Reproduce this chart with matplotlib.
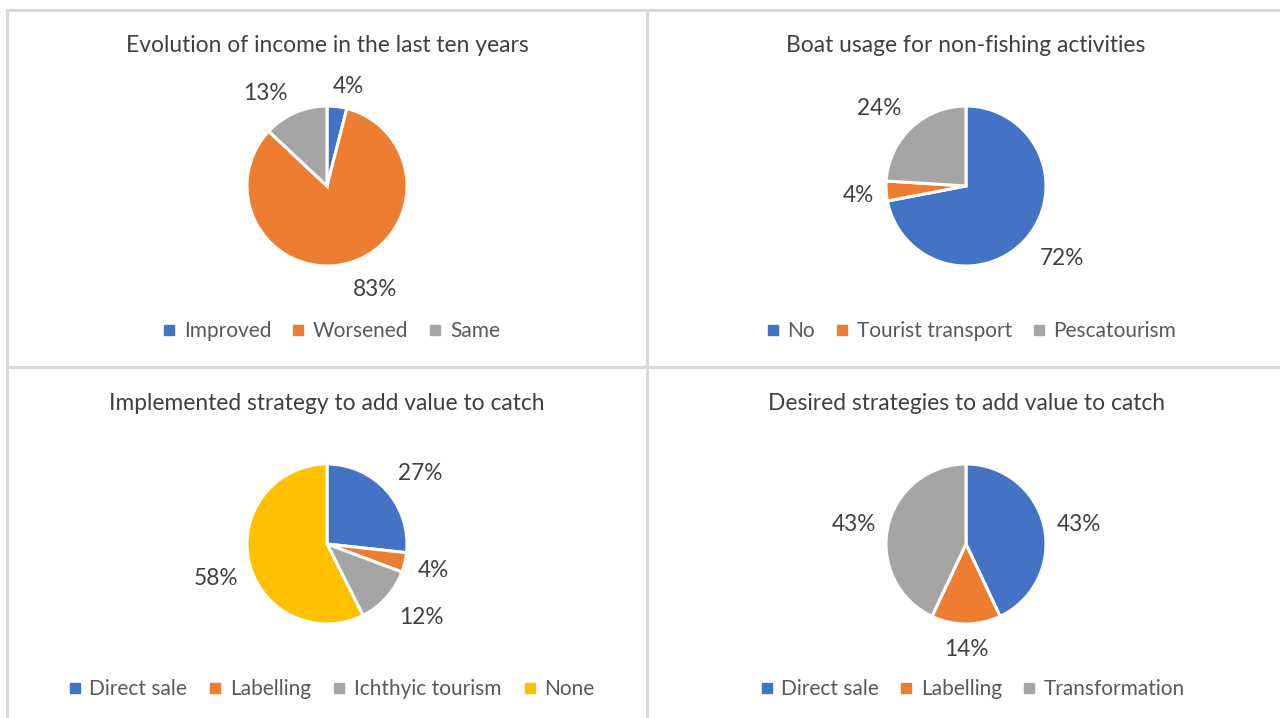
import matplotlib
matplotlib.use("Agg")
import matplotlib.pyplot as plt
from matplotlib.lines import Line2D
import numpy as np

plt.rcParams['font.family'] = ['Lato', 'DejaVu Sans']

BLUE = "#4472C4"
ORANGE = "#ED7D31"
GRAY = "#A5A5A5"
YELLOW = "#FFC000"

# Panel data
income_title = "Evolution of income in the last ten years"
income_labels = ["Improved", "Worsened", "Same"]
income_values = [4, 83, 13]

boat_title = "Boat usage for non-fishing activities"
boat_labels = ["No", "Tourist transport", "Pescatourism"]
boat_values = [72, 4, 24]

impl_title = "Implemented strategy to add value to catch"
impl_labels = ["Direct sale", "Labelling", "Ichthyic tourism", "None"]
impl_values = [27, 4, 12, 58]

desired_title = "Desired strategies to add value to catch"
desired_labels = ["Direct sale", "Labelling", "Transformation"]
desired_values = [43, 14, 43]

W, H = 1280, 718
fig = plt.figure(figsize=(W / 100, H / 100), dpi=100)
fig.patch.set_facecolor("white")


def fx(x):
    return x / W


def fy(y):
    return 1 - y / H


# Panel grid lines
grid_kw = dict(color="#D9D9D9", linewidth=2.2, transform=fig.transFigure, zorder=0)
fig.add_artist(Line2D([fx(7), fx(1280)], [fy(10), fy(10)], **grid_kw))
fig.add_artist(Line2D([fx(7), fx(7)], [fy(10), fy(718)], **grid_kw))
fig.add_artist(Line2D([fx(647), fx(647)], [fy(10), fy(718)], **grid_kw))
fig.add_artist(Line2D([fx(7), fx(1280)], [fy(367), fy(367)], **grid_kw))

R_PX = 80
BOX = 340
LABEL_SIZE = 16.3


def panel(cx, cy, title, labels, values, colors, label_dist, label_turn,
          title_y, legend_x, legend_y, colspace):
    ax = fig.add_axes([fx(cx - BOX / 2), fy(cy + BOX / 2), BOX / W, BOX / H])
    lim = BOX / 2 / R_PX
    wedges, _ = ax.pie(values, colors=colors, startangle=90, counterclock=False,
                       radius=1, wedgeprops=dict(edgecolor="white", linewidth=2.2))
    ax.set_xlim(-lim, lim)
    ax.set_ylim(-lim, lim)
    ax.set_aspect("equal")
    ax.axis("off")
    # value labels outside each wedge, baseline shifted so digits sit centred
    for w, v, d, t in zip(wedges, values, label_dist, label_turn):
        ang = np.deg2rad((w.theta1 + w.theta2) / 2 + t)
        ax.annotate(f"{v}%", (d * np.cos(ang), d * np.sin(ang)),
                    xytext=(0, -0.36 * LABEL_SIZE), textcoords="offset points",
                    ha="center", va="baseline", fontsize=LABEL_SIZE, color="#404040")
    fig.text(fx(cx), fy(title_y), title, ha="center", va="center",
             fontsize=16.4, color="#404040")
    handles = [Line2D([], [], marker="s", linestyle="", markersize=6.5,
                      markerfacecolor=c, markeredgecolor=c) for c in colors]
    fig.legend(handles, labels, loc="center", bbox_to_anchor=(fx(legend_x), fy(legend_y)),
               ncol=len(labels), frameon=False, fontsize=15, labelcolor="#595959",
               handlelength=0.5, handletextpad=0.45, columnspacing=colspace)


panel(327, 186, income_title, income_labels, income_values, [BLUE, ORANGE, GRAY],
      [1.29, 1.41, 1.41], [-5, 9, 10], 45, 332, 331, 1.05)
panel(966, 186, boat_title, boat_labels, boat_values, [BLUE, ORANGE, GRAY],
      [1.49, 1.35, 1.47], [3, 0.5, 4.5], 45, 972, 331, 1.05)
panel(327, 544, impl_title, impl_labels, impl_values, [BLUE, ORANGE, GRAY, YELLOW],
      [1.47, 1.37, 1.48, 1.45], [-4, 0, 4.5, 3], 403, 332, 689, 1.1)
panel(966, 544, desired_title, desired_labels, desired_values, [BLUE, ORANGE, GRAY],
      [1.44, 1.30, 1.42], [-2, 0, 2], 403, 973, 689, 1.05)

fig.savefig("out.png", dpi=100, facecolor="white")
